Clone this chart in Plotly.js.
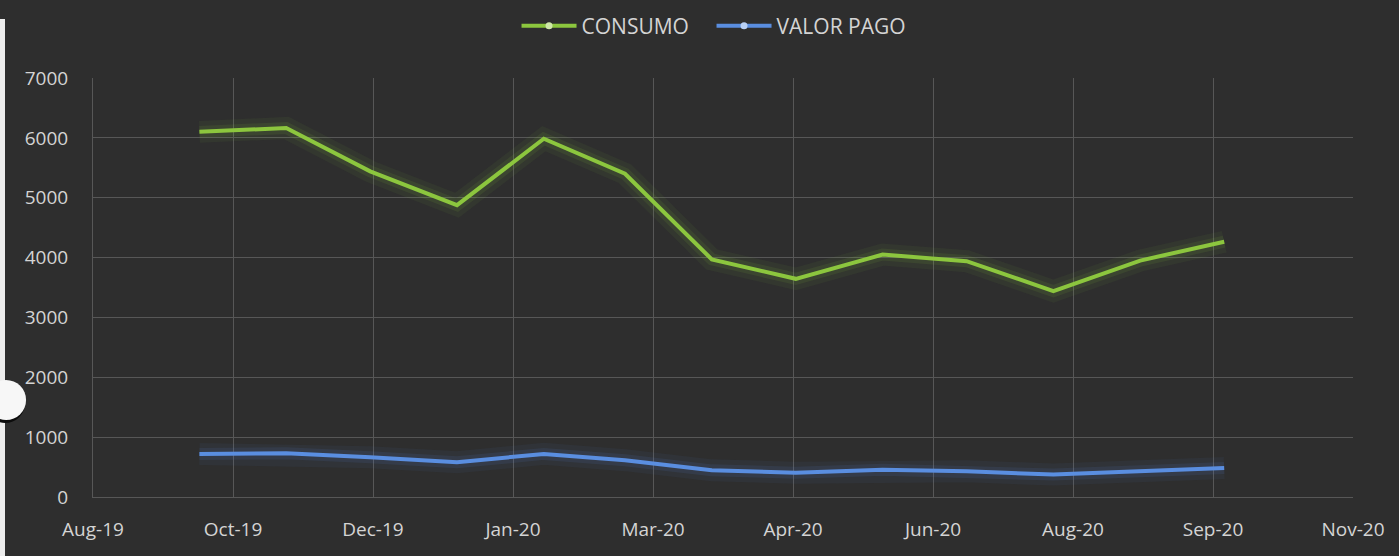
<!DOCTYPE html>
<html>
<head>
<meta charset="utf-8">
<script src="https://cdn.plot.ly/plotly-3.0.1.min.js"></script>
<style>
  html, body { margin: 0; padding: 0; background: #2e2e2e; }
  #chart { width: 1399px; height: 556px; }
</style>
</head>
<body>
<div id="chart"></div>
<script>
// ---- data ----
const months = ['2019-10-01','2019-11-01','2019-12-01','2020-01-01','2020-02-01','2020-03-01',
                '2020-04-01','2020-05-01','2020-06-01','2020-07-01','2020-08-01','2020-09-01','2020-10-01'];
const consumo = [6100, 6165, 5440, 4875, 5985, 5400, 3970, 3645, 4050, 3940, 3440, 3950, 4265];
const valorPago = [720, 730, 665, 580, 720, 615, 445, 405, 455, 430, 375, 430, 485];
const seriesNames = ['CONSUMO', 'VALOR PAGO'];
const xTickVals = ['2019-08-24','2019-10-13','2019-12-02','2020-01-21','2020-03-11',
                   '2020-04-30','2020-06-19','2020-08-08','2020-09-27','2020-11-16'];
const xTickText = ['Aug-19','Oct-19','Dec-19','Jan-20','Mar-20','Apr-20','Jun-20','Aug-20','Sep-20','Nov-20'];
const yTickVals = [0, 1000, 2000, 3000, 4000, 5000, 6000, 7000];

// ---- style ----
const green = '#8cc63e';
const blue = '#5a8ee0';
const textColor = '#d4d4d4';
const gridColor = '#575757';

function glow(y, rgb, width, op) {
  return { x: months, y: y, mode: 'lines', showlegend: false, hoverinfo: 'skip',
           line: { color: 'rgba(' + rgb + ',' + op + ')', width: width } };
}

const traces = [
  glow(consumo, '140,198,62', 22, 0.06),
  glow(consumo, '140,198,62', 12, 0.10),
  glow(valorPago, '90,142,224', 22, 0.06),
  glow(valorPago, '90,142,224', 12, 0.10),
  { x: months, y: consumo, mode: 'lines', name: seriesNames[0], showlegend: false,
    line: { color: green, width: 4 } },
  { x: months, y: valorPago, mode: 'lines', name: seriesNames[1], showlegend: false,
    line: { color: blue, width: 4 } },
  // legend entries (Excel style: line with marker)
  { x: [null], y: [null], mode: 'lines+markers', name: seriesNames[0],
    line: { color: green, width: 4 }, marker: { color: '#cfe8a8', size: 7 } },
  { x: [null], y: [null], mode: 'lines+markers', name: seriesNames[1],
    line: { color: blue, width: 4 }, marker: { color: '#b8d0f4', size: 7 } }
];

const layout = {
  width: 1399, height: 556,
  paper_bgcolor: '#2e2e2e', plot_bgcolor: '#2e2e2e',
  margin: { l: 93, r: 46, t: 78, b: 59 },
  font: { family: '"Open Sans", "Noto Sans", sans-serif', size: 19, color: textColor },
  showlegend: true,
  legend: {
    orientation: 'h', x: 0.5086, xanchor: 'center', xref: 'container',
    y: 0.99, yanchor: 'top', yref: 'container',
    font: { size: 21, color: textColor }, itemwidth: 55,
    entrywidth: 125, entrywidthmode: 'pixels',
    bgcolor: 'rgba(0,0,0,0)', traceorder: 'normal'
  },
  xaxis: {
    type: 'date', range: ['2019-08-24', '2020-11-16'],
    tickmode: 'array', tickvals: xTickVals, ticktext: xTickText,
    showgrid: true, gridcolor: gridColor, gridwidth: 1,
    showline: true, linecolor: gridColor, linewidth: 1,
    zeroline: false, ticks: '', ticklabelstandoff: 15,
    tickfont: { size: 19, color: textColor }, fixedrange: true
  },
  yaxis: {
    range: [0, 7000], tickmode: 'array', tickvals: yTickVals,
    showgrid: true, gridcolor: gridColor, gridwidth: 1,
    showline: true, linecolor: gridColor, linewidth: 1,
    zeroline: false, ticks: '', ticklabelstandoff: 20,
    tickfont: { size: 19, color: textColor }, fixedrange: true
  },
  shapes: [
    // photo edge strip at the very left
    { type: 'rect', xref: 'paper', yref: 'paper', x0: -93/1260, x1: -88/1260, y0: -59/419, y1: 478/419,
      fillcolor: '#ededed', line: { width: 0 }, layer: 'above' },
    // photo hole-punch artifact at left edge (shadow + white disc)
    { type: 'circle', xref: 'paper', yref: 'paper', xsizemode: 'pixel', ysizemode: 'pixel',
      xanchor: -0.069, yanchor: 0.2315, x0: -21, x1: 19, y0: -23, y1: 17,
      fillcolor: '#0c0c0c', line: { width: 0 } },
    { type: 'circle', xref: 'paper', yref: 'paper', xsizemode: 'pixel', ysizemode: 'pixel',
      xanchor: -0.069, yanchor: 0.2315, x0: -20, x1: 20, y0: -20, y1: 20,
      fillcolor: '#f7f7f7', line: { width: 0 } }
  ]
};

Plotly.newPlot('chart', traces, layout, { displayModeBar: false, staticPlot: true });
</script>
</body>
</html>
